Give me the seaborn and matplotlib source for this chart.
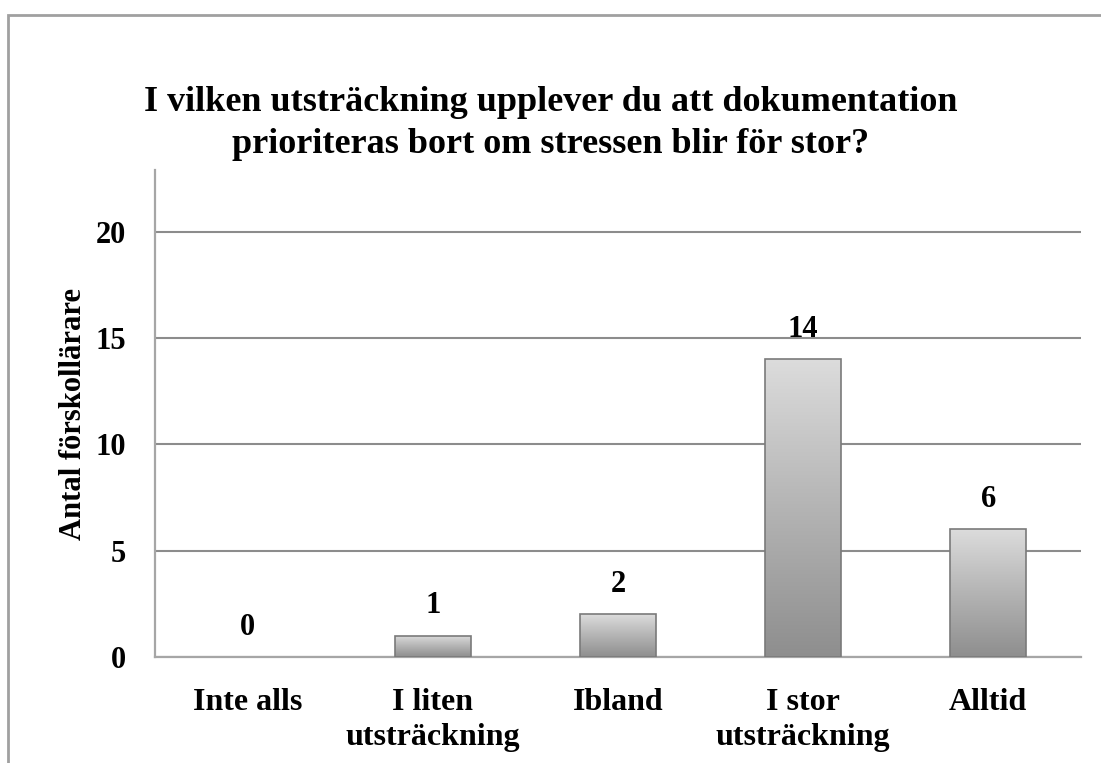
import numpy as np
import pandas as pd
import seaborn as sns
import matplotlib.pyplot as plt
from matplotlib.patches import Rectangle
from matplotlib.colors import LinearSegmentedColormap

# data
kategorier = ['Inte alls', 'I liten\nutsträckning', 'Ibland', 'I stor\nutsträckning', 'Alltid']
antal = [0, 1, 2, 14, 6]
y_ticks = [0, 5, 10, 15, 20]

titel = 'I vilken utsträckning upplever du att dokumentation\nprioriteras bort om stressen blir för stor?'
y_etikett = 'Antal förskollärare'

df = pd.DataFrame({'kategori': kategorier, 'antal': antal})

sns.set_style('white')
plt.rcParams['font.family'] = ['Liberation Serif', 'DejaVu Serif']
plt.rcParams['font.weight'] = 'bold'
plt.rcParams['text.color'] = 'black'
plt.rcParams['xtick.color'] = 'black'
plt.rcParams['ytick.color'] = 'black'
plt.rcParams['axes.labelcolor'] = 'black'

fig = plt.figure(figsize=(11.01, 7.63), dpi=100)
ax = fig.add_axes([0.1408, 0.1389, 0.8410, 0.6383])

sns.barplot(data=df, x='kategori', y='antal', color='#aaaaaa', width=0.41,
            edgecolor='#7a7a7a', linewidth=1.2, ax=ax, zorder=3)

# gradient fill inside each bar
gra = LinearSegmentedColormap.from_list('gra', ['#dcdcdc', '#b4b4b4', '#8e8e8e'])
grad = np.linspace(0, 1, 256).reshape(-1, 1)
for p in ax.patches:
    h = p.get_height()
    if h <= 0:
        p.set_linewidth(0)
        continue
    x0 = p.get_x()
    w = p.get_width()
    im = ax.imshow(grad, cmap=gra, aspect='auto',
                   extent=[x0, x0 + w, 0, h], origin='upper', zorder=3.5,
                   interpolation='bicubic')
    im.set_clip_path(p)
    p.set_facecolor('none')
    p.set_zorder(4)

ax.bar_label(ax.containers[0], labels=[str(v) for v in antal], padding=11,
             fontsize=22, fontweight='bold', color='black')

ax.set_xlim(-0.5, len(kategorier) - 0.5)
ax.set_ylim(0, 22.9)
ax.set_yticks(y_ticks)
ax.yaxis.grid(True, color='#8c8c8c', linewidth=1.5, zorder=0)
ax.xaxis.grid(False)
ax.set_axisbelow(True)

for s in ['top', 'right']:
    ax.spines[s].set_visible(False)
for s in ['left', 'bottom']:
    ax.spines[s].set_color('#a6a6a6')
    ax.spines[s].set_linewidth(1.6)

ax.set_xticks(np.arange(-0.5, len(kategorier)), minor=True)
ax.tick_params(axis='x', which='major', length=0, pad=22, labelsize=23)
ax.tick_params(axis='x', which='minor', length=14, direction='inout',
               color='#a6a6a6', width=1.6)
ax.tick_params(axis='y', length=14, direction='inout', color='#a6a6a6',
               width=1.6, pad=14, labelsize=22)
for lbl in ax.get_xticklabels():
    lbl.set_fontweight('bold')
    lbl.set_linespacing(1.3)
for lbl in ax.get_yticklabels():
    lbl.set_fontweight('bold')

ax.set_xlabel('')
ax.set_ylabel(y_etikett, fontsize=22, fontweight='bold', labelpad=5)

fig.text(0.5, 0.8375, titel, ha='center', va='center', fontsize=26,
         fontweight='bold', linespacing=1.36)

# outer chart frame
fig.patches.append(Rectangle((8 / 1101, -0.2), 1.2, 1.2 - 15 / 763,
                             transform=fig.transFigure, fill=False,
                             edgecolor='#a0a0a0', linewidth=2))

fig.savefig('out.png', dpi=100)
